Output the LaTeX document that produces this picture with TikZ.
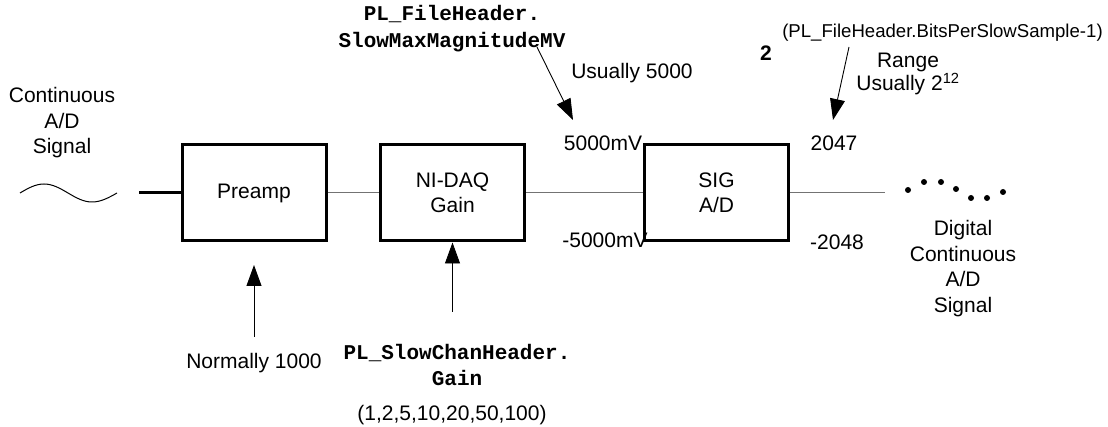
\documentclass[tikz,border=0pt]{standalone}
\usepackage{fontspec}
\setmainfont{Liberation Sans}
\newfontfamily\codefont{Liberation Mono}
\usetikzlibrary{arrows.meta}
\definecolor{wire}{gray}{0.45}
\tikzset{
  blockbox/.style={draw, line width=3pt, minimum width=144pt, minimum height=96pt,
    align=center, inner sep=0pt, font=\fontsize{21}{25}\selectfont},
  lbl/.style={inner sep=0pt, align=center, font=\fontsize{21}{25.5}\selectfont},
  codelbl/.style={inner sep=0pt, align=center, font=\codefont\bfseries\fontsize{21}{27}\selectfont},
  wireline/.style={draw=wire, line width=1pt},
  feed/.style={draw=black, line width=0.9pt, -{Triangle[length=21pt,width=15pt]}},
  sample/.style={fill=black, circle, inner sep=0pt, minimum size=6pt}
}
\begin{document}
\begin{tikzpicture}[x=1pt, y=-1pt]
\useasboundingbox (0,0) rectangle (1108,427);

% processing blocks
\node[blockbox] (preamp) at (254,193) {Preamp};
\node[blockbox] (nidaq) at (452.5,193) {NI-DAQ\\Gain};
\node[blockbox] (sigad) at (716.5,193) {SIG\\A/D};

% analog input waveform and lead-in
\draw[line width=1pt] (20,193) sin (44,184) cos (68,193) sin (92,202) cos (117,193);
\coordinate (lead) at (139,193);
\draw[line width=3pt] (lead) -- (preamp.west);

% signal chain
\draw[wireline] (preamp.east) -- (nidaq.west);
\draw[wireline] (nidaq.east) -- (sigad.west);
\coordinate (outend) at (885,193);
\draw[wireline] (sigad.east) -- (outend);

% digital samples
\foreach \i/\px/\py in {1/908/190, 2/924/182, 3/941/182, 4/956/189, 5/971/198, 6/987/198, 7/1003/192}
  \node[sample] (s\i) at (\px,\py) {};

% labels
\node[lbl] (insig) at (62,123) {Continuous\\A/D\\Signal};
\node[lbl] (outsig) at (963,268.5) {Digital\\Continuous\\A/D\\Signal};

\node[codelbl] (maxmv) at (452,28.5) {PL\_FileHeader.\\SlowMaxMagnitudeMV};
\node[lbl] (usual5k) at (632,73) {Usually 5000};
\node[lbl] (pmv) at (603,143) {5000mV};
\node[lbl] (nmv) at (605,240) {-5000mV};

\node[inner sep=0pt, font=\bfseries\fontsize{21}{25}\selectfont] (two) at (766,53) {2};
\node[inner sep=0pt, font=\fontsize{18.6}{22}\selectfont] (bits) at (942.5,33) {(PL\_FileHeader.BitsPerSlowSample-1)};
\node[lbl, font=\fontsize{21}{21}\selectfont] (range) at (908,74) {Range\\Usually 2\textsuperscript{12}};
\node[lbl] (pcount) at (834,143) {2047};
\node[lbl] (ncount) at (837,242) {-2048};

\node[lbl] (norm) at (254,363) {Normally 1000};
\node[codelbl, font=\codefont\bfseries\fontsize{21}{26}\selectfont] (gainhdr) at (457,365) {PL\_SlowChanHeader.\\Gain};
\node[lbl] (gainset) at (452,415) {(1,2,5,10,20,50,100)};

% parameter arrows
\coordinate (mvtail) at (537,47);
\coordinate (mvtip) at (573,120);
\draw[feed] (mvtail) -- (mvtip);

\coordinate (bitstail) at (849,47);
\coordinate (bitstip) at (833,120);
\draw[feed] (bitstail) -- (bitstip);

\coordinate (pretail) at (254,337);
\coordinate (pretip) at (254,265);
\draw[feed] (pretail) -- (pretip);

\coordinate (gaintail) at (452.5,312);
\draw[feed] (gaintail) -- (nidaq.south);
\end{tikzpicture}
\end{document}
